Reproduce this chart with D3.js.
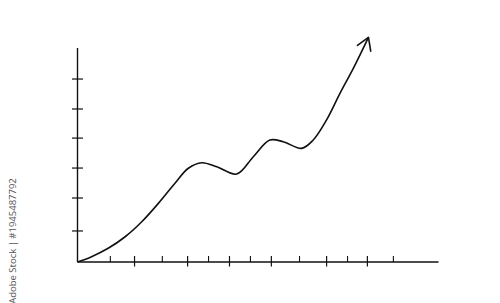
<!DOCTYPE html>
<html>
<head>
<meta charset="utf-8">
<script src="https://cdn.jsdelivr.net/npm/d3@7"></script>
<style>
  body { margin: 0; background: #fff; }
</style>
</head>
<body>
<svg id="chart"></svg>
<script>
const width = 500;
const height = 303;
const sid = "#chart";

// curve points (data units, 0..100 on both axes)
const curveX = [0, 3.9, 8.5, 13.2, 17.8, 22.4, 27.0, 30.7, 34.4, 38.6, 44.1, 48.7, 53.3, 57.0, 62.1, 65.3, 69.0, 72.7, 76.4, 80.6];
const curveY = [0, 2.5, 6.4, 11.8, 18.8, 27.4, 36.8, 43.8, 46.4, 44.5, 41.1, 49.2, 57.0, 56.2, 53.1, 57.0, 66.4, 78.8, 90.5, 105.0];

// tick positions
const xMajorTicks = [15.8, 30.5, 42.1, 53.7, 69.0, 80.3];
const xMinorTicks = [9.1, 23.5, 36.3, 47.9, 61.5, 74.8, 87.5];
const yTicks = [14.5, 29.9, 43.9, 57.9, 71.5, 85.5];

const watermark = "Adobe Stock | #1945487792";

const svg = d3.select(sid)
    .attr("width", width)
    .attr("height", height);

const xScale = d3.scaleLinear().domain([0, 100]).range([77.5, 438.5]);
const yScale = d3.scaleLinear().domain([0, 100]).range([262, 48]);

const ink = "#111";

// axes lines
svg.append("line")
    .attr("x1", xScale(0)).attr("x2", xScale(0))
    .attr("y1", yScale(100)).attr("y2", yScale(0))
    .attr("stroke", ink).attr("stroke-width", 1.4);

svg.append("line")
    .attr("x1", xScale(0)).attr("x2", xScale(100))
    .attr("y1", yScale(0)).attr("y2", yScale(0))
    .attr("stroke", ink).attr("stroke-width", 1.4);

// y ticks cross the axis
svg.append("g")
    .selectAll("line")
    .data(yTicks)
    .enter()
    .append("line")
        .attr("x1", xScale(0) - 5.5)
        .attr("x2", xScale(0) + 5.5)
        .attr("y1", d => yScale(d))
        .attr("y2", d => yScale(d))
        .attr("stroke", ink)
        .attr("stroke-width", 1.2);

// long x ticks
svg.append("g")
    .selectAll("line")
    .data(xMajorTicks)
    .enter()
    .append("line")
        .attr("x1", d => xScale(d))
        .attr("x2", d => xScale(d))
        .attr("y1", yScale(0) - 6)
        .attr("y2", yScale(0) + 4.5)
        .attr("stroke", ink)
        .attr("stroke-width", 1.2);

// short x ticks
svg.append("g")
    .selectAll("line")
    .data(xMinorTicks)
    .enter()
    .append("line")
        .attr("x1", d => xScale(d))
        .attr("x2", d => xScale(d))
        .attr("y1", yScale(0) - 6)
        .attr("y2", yScale(0))
        .attr("stroke", ink)
        .attr("stroke-width", 1.1);

// arrow head
svg.append("defs")
    .append("marker")
    .attr("id", "arrow")
    .attr("markerUnits", "userSpaceOnUse")
    .attr("viewBox", "-14 -10 16 20")
    .attr("refX", 0)
    .attr("refY", 0)
    .attr("markerWidth", 16)
    .attr("markerHeight", 20)
    .attr("orient", "auto")
    .append("path")
        .attr("d", "M-12,-6.5 L0,0 L-11.5,8")
        .attr("fill", "none")
        .attr("stroke", ink)
        .attr("stroke-width", 1.6)
        .attr("stroke-linecap", "round")
        .attr("stroke-linejoin", "round");

const points = curveX.map((x, i) => ({ x: x, y: curveY[i] }));

const line = d3.line()
    .x(d => xScale(d.x))
    .y(d => yScale(d.y))
    .curve(d3.curveCatmullRom.alpha(0.5));

svg.append("path")
    .datum(points)
    .attr("d", line)
    .attr("fill", "none")
    .attr("stroke", ink)
    .attr("stroke-width", 1.6)
    .attr("marker-end", "url(#arrow)");

// vertical stock label
svg.append("text")
    .attr("transform", "translate(16,241) rotate(-90)")
    .attr("text-anchor", "middle")
    .style("font-family", "'Open Sans', sans-serif")
    .style("font-size", "9.5px")
    .style("fill", "#555")
    .text(watermark);
</script>
</body>
</html>
